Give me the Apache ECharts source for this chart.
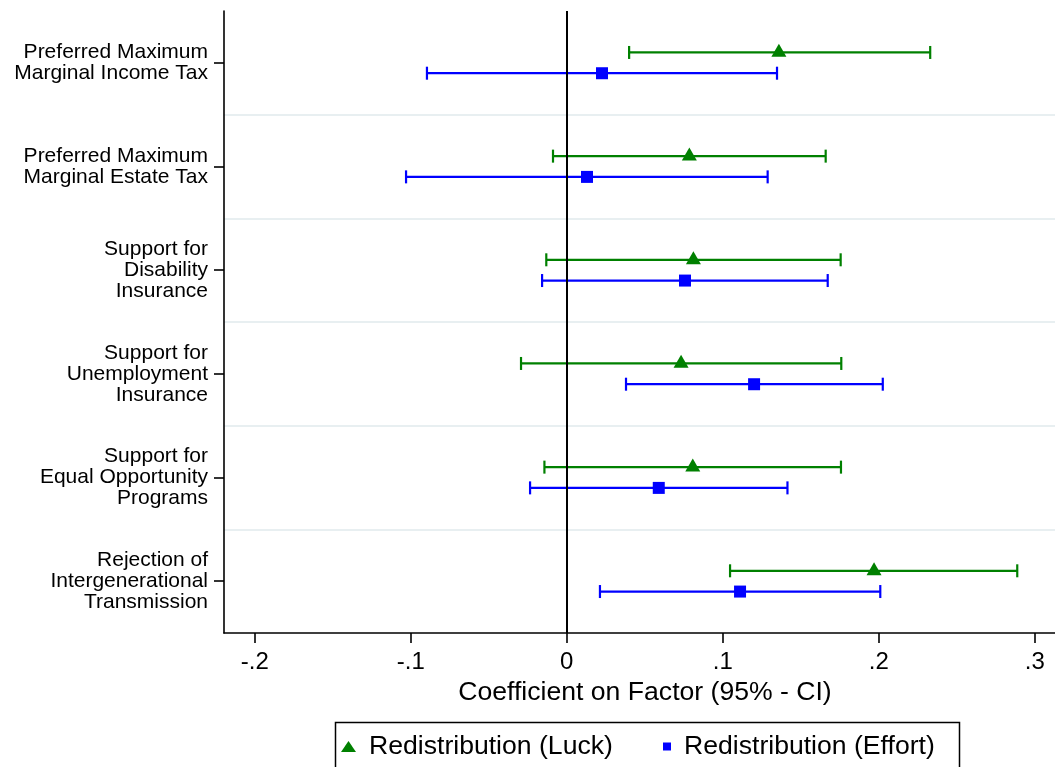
<!DOCTYPE html>
<html>
<head>
<meta charset="utf-8">
<script src="https://cdn.jsdelivr.net/npm/echarts@6/dist/echarts.min.js"></script>
<style>
  html, body { margin: 0; padding: 0; background: #fff; }
  #chart { width: 1055px; height: 767px; }
</style>
</head>
<body>
<div id="chart"></div>
<script>
// Outcome categories (top to bottom)
const categories = [
  'Preferred Maximum\nMarginal Income Tax',
  'Preferred Maximum\nMarginal Estate Tax',
  'Support for\nDisability\nInsurance',
  'Support for\nUnemployment\nInsurance',
  'Support for\nEqual Opportunity\nPrograms',
  'Rejection of\nIntergenerational\nTransmission'
];

// Redistribution (Luck): point estimates and 95% CI bounds
const luckCoef = [0.136, 0.0786, 0.0812, 0.0733, 0.0808, 0.197];
const luckLo   = [0.040, -0.0088, -0.0131, -0.0293, -0.0143, 0.1047];
const luckHi   = [0.233, 0.166, 0.1756, 0.176, 0.1758, 0.2888];

// Redistribution (Effort): point estimates and 95% CI bounds
const effortCoef = [0.0226, 0.013, 0.0758, 0.1201, 0.059, 0.1111];
const effortLo   = [-0.0896, -0.103, -0.0158, 0.038, -0.0235, 0.0213];
const effortHi   = [0.1348, 0.1288, 0.1673, 0.2026, 0.1415, 0.201];

// x-axis ticks and their printed labels
const tickValues = [-0.2, -0.1, 0, 0.1, 0.2, 0.3];
const tickLabels = ['-.2', '-.1', '0', '.1', '.2', '.3'];

const seriesNames = ['Redistribution (Luck)', 'Redistribution (Effort)'];
const GREEN = '#008000';
const BLUE = '#0000ff';
const FONT = "'Liberation Sans', Arial, sans-serif";

const chart = echarts.init(document.getElementById('chart'), null, { renderer: 'canvas' });

// Error bar drawn at a fraction of the category band above/below its centre
function ciRenderer(color, bandShift) {
  return function (params, api) {
    const cat = api.value(2);
    const a = api.coord([api.value(0), cat]);
    const b = api.coord([api.value(1), cat]);
    const band = api.size([0, 1])[1];
    const y = a[1] + band * bandShift;
    const cap = 6.5;
    const style = { stroke: color, lineWidth: 2.2, fill: null };
    return {
      type: 'group',
      children: [
        { type: 'line', shape: { x1: a[0], y1: y, x2: b[0], y2: y }, style },
        { type: 'line', shape: { x1: a[0], y1: y - cap, x2: a[0], y2: y + cap }, style },
        { type: 'line', shape: { x1: b[0], y1: y - cap, x2: b[0], y2: y + cap }, style }
      ]
    };
  };
}

const luckCI = luckLo.map((v, i) => [v, luckHi[i], i]);
const effortCI = effortLo.map((v, i) => [v, effortHi[i], i]);
const luckPts = luckCoef.map((v, i) => [v, i]);
const effortPts = effortCoef.map((v, i) => [v, i]);

const option = {
  backgroundColor: '#fff',
  animation: false,
  textStyle: { fontFamily: FONT, color: '#000' },
  grid: { left: 224, right: 0, top: 11, bottom: 134, containLabel: false },
  xAxis: {
    type: 'value',
    min: -0.2197,
    max: 0.313,
    axisLine: { show: true, onZero: false, lineStyle: { color: '#000', width: 1.6 } },
    axisTick: {
      show: true, length: 10, customValues: tickValues,
      lineStyle: { color: '#000', width: 1.6 }
    },
    axisLabel: {
      customValues: tickValues,
      margin: 17,
      fontSize: 24,
      color: '#000',
      fontFamily: FONT,
      formatter: function (v) {
        const i = tickValues.findIndex(t => Math.abs(t - v) < 1e-9);
        return i >= 0 ? tickLabels[i] : '';
      }
    },
    splitLine: { show: false },
    name: 'Coefficient on Factor (95% - CI)',
    nameLocation: 'middle',
    nameGap: 43,
    nameTextStyle: { fontSize: 26.6, color: '#000', fontFamily: FONT, padding: [0, 0, 0, 11] }
  },
  yAxis: [
    {
      type: 'category',
      data: categories,
      inverse: true,
      position: 'left',
      axisLine: { show: true, onZero: false, lineStyle: { color: '#000', width: 1.6 } },
      axisTick: { show: true, alignWithLabel: true, length: 10, lineStyle: { color: '#000', width: 1.6 } },
      axisLabel: {
        interval: 0, margin: 16, fontSize: 21, lineHeight: 21,
        color: '#000', align: 'right', fontFamily: FONT
      },
      splitLine: { show: false }
    },
    {
      // band separators
      type: 'value',
      min: 0, max: 6, interval: 1,
      inverse: true,
      position: 'right',
      axisLine: { show: false, onZero: false },
      axisTick: { show: false },
      axisLabel: { show: false },
      splitLine: {
        show: true, showMinLine: false, showMaxLine: false,
        lineStyle: { color: '#e8eff1', width: 2 }
      }
    }
  ],
  legend: [
    {
      data: [{ name: seriesNames[0], icon: 'triangle' }],
      left: 341, top: 733, padding: 0,
      itemWidth: 15, itemHeight: 11,
      selectedMode: false,
      textStyle: { fontSize: 26.6, color: '#000', fontFamily: FONT, padding: [6, 0, 0, 8] }
    },
    {
      data: [{ name: seriesNames[1], icon: 'rect' }],
      left: 663, top: 733, padding: 0,
      itemWidth: 8, itemHeight: 8,
      selectedMode: false,
      textStyle: { fontSize: 26.6, color: '#000', fontFamily: FONT, padding: [2, 0, 0, 8] }
    }
  ],
  graphic: [
    {
      type: 'rect',
      left: 333, top: 720,
      shape: { width: 624, height: 70 },
      style: { fill: null, stroke: '#000', lineWidth: 1.5 },
      silent: true
    }
  ],
  series: [
    {
      name: seriesNames[0],
      type: 'custom',
      yAxisIndex: 0,
      renderItem: ciRenderer(GREEN, -0.1),
      itemStyle: { color: GREEN },
      encode: { x: [0, 1], y: 2 },
      data: luckCI,
      z: 2
    },
    {
      name: seriesNames[1],
      type: 'custom',
      yAxisIndex: 0,
      renderItem: ciRenderer(BLUE, 0.1),
      itemStyle: { color: BLUE },
      encode: { x: [0, 1], y: 2 },
      data: effortCI,
      z: 2
    },
    {
      name: seriesNames[0],
      type: 'scatter',
      yAxisIndex: 0,
      symbol: 'triangle',
      symbolSize: [15, 13],
      symbolOffset: [0, -12.5],
      itemStyle: { color: GREEN, opacity: 1 },
      data: luckPts,
      z: 5
    },
    {
      name: seriesNames[1],
      type: 'scatter',
      yAxisIndex: 0,
      symbol: 'rect',
      symbolSize: [12, 12],
      symbolOffset: [0, 10.4],
      itemStyle: { color: BLUE, opacity: 1 },
      data: effortPts,
      z: 5,
      markLine: {
        silent: true,
        symbol: 'none',
        label: { show: false },
        lineStyle: { color: '#000', width: 2, type: 'solid' },
        data: [{ xAxis: 0 }],
        z: 4
      }
    }
  ]
};

chart.setOption(option);
</script>
</body>
</html>
